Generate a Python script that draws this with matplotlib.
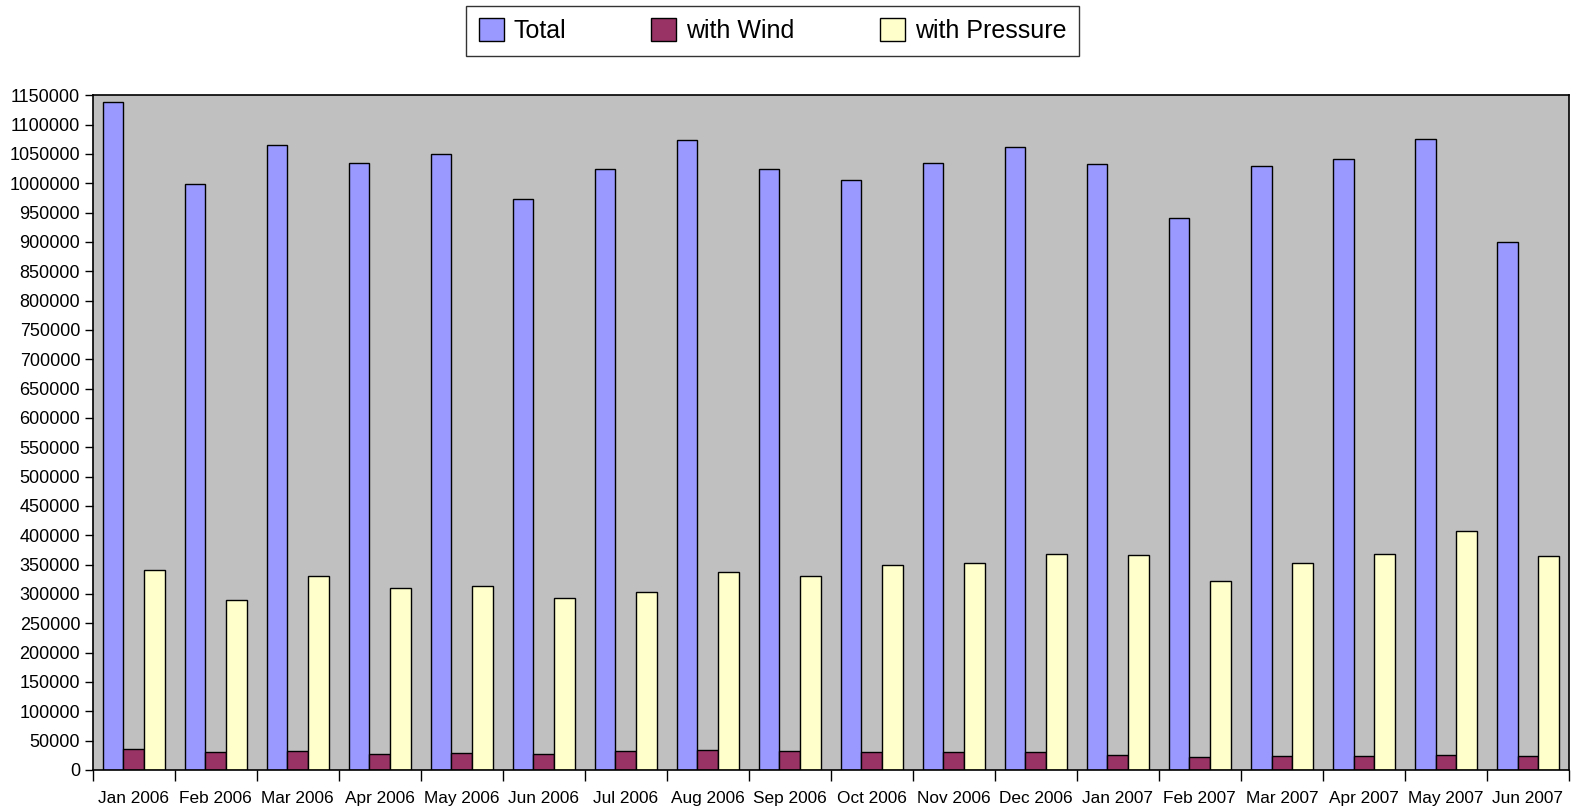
import numpy as np
import matplotlib.pyplot as plt

plt.rcParams['font.family'] = ['Liberation Sans', 'DejaVu Sans']

# Data
months = ['Jan 2006', 'Feb 2006', 'Mar 2006', 'Apr 2006', 'May 2006', 'Jun 2006',
          'Jul 2006', 'Aug 2006', 'Sep 2006', 'Oct 2006', 'Nov 2006', 'Dec 2006',
          'Jan 2007', 'Feb 2007', 'Mar 2007', 'Apr 2007', 'May 2007', 'Jun 2007']
total = [1138000, 998000, 1065000, 1034000, 1050000, 973000,
         1024000, 1074000, 1025000, 1005000, 1035000, 1062000,
         1033000, 940000, 1030000, 1041000, 1075000, 900000]
wind = [35000, 30000, 32000, 28000, 29000, 28000,
        33000, 34000, 33000, 31000, 30000, 30000,
        26000, 22000, 23000, 24000, 26000, 23000]
pressure = [340000, 290000, 331000, 310000, 313000, 293000,
            303000, 338000, 331000, 350000, 353000, 368000,
            367000, 322000, 353000, 368000, 408000, 364000]

fig = plt.figure(figsize=(15.72, 8.06), dpi=100)
ax = fig.add_axes([0.059, 0.0447, 0.939, 0.8371])
ax.set_facecolor('#C0C0C0')

x = np.arange(len(months))
w = 0.252
ax.bar(x - w, total, w, color='#9999FF', edgecolor='black', linewidth=1, label='Total')
ax.bar(x, wind, w, color='#993366', edgecolor='black', linewidth=1, label='with Wind')
ax.bar(x + w, pressure, w, color='#FFFFCC', edgecolor='black', linewidth=1, label='with Pressure')

ax.set_xlim(-0.5, len(months) - 0.5)
ax.set_ylim(0, 1150000)
ax.set_yticks(np.arange(0, 1150001, 50000))
ax.set_yticklabels([str(v) for v in range(0, 1150001, 50000)], fontsize=13)
ax.tick_params(axis='y', length=6, width=1, pad=3)

ax.set_xticks(x)
ax.set_xticklabels(months, fontsize=12.4)
ax.set_xticks(np.arange(-0.5, len(months)), minor=True)
ax.tick_params(axis='x', which='major', length=0, pad=15)
ax.tick_params(axis='x', which='minor', length=8, width=1)

for s in ax.spines.values():
    s.set_color('black')
    s.set_linewidth(1.2)

leg = fig.legend(loc='center', bbox_to_anchor=(0.4914, 0.962), ncol=3, fontsize=18,
                 frameon=True, fancybox=False, edgecolor='black', handlelength=1.0,
                 handleheight=1.0, handletextpad=0.4, columnspacing=3.4,
                 borderpad=0.5)
leg.get_frame().set_linewidth(1)

fig.savefig('out.png', dpi=100)
